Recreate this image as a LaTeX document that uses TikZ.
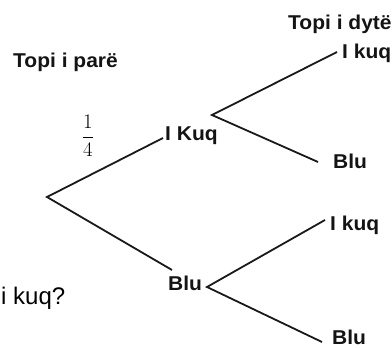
\documentclass[tikz,border=0pt]{standalone}
\usepackage{fontspec}
\setmainfont{Liberation Sans}
\newfontfamily\labfont[FakeStretch=1.05,BoldFont={Liberation Sans Bold}]{Liberation Sans}
\begin{document}
\begin{tikzpicture}[x=1pt,y=-1pt,
  lab/.style={inner sep=0pt,anchor=base west,font=\labfont\fontsize{20}{22}\selectfont\bfseries,text=black!92},
  branch/.style={line width=1.8pt,draw=black!90}]
\useasboundingbox (0,0) rectangle (392,348);
% headings
\node[lab] (topi1) at (13,67) {Topi i parë};
\node[lab] (topi2) at (288,30) {Topi i dytë};
% fraction
\node[inner sep=0pt,font=\fontsize{21}{24}\selectfont] (frac) at (88,136) {$\displaystyle\frac{1}{4}$};
% first level
\coordinate (root) at (47,197);
\node[lab] (ikuqM) at (165,140) {I Kuq};
\node[lab] (bluM) at (168,290) {Blu};
% second level
\coordinate (f1) at (212,115);
\coordinate (f2) at (207,287);
\node[lab] (ikuqA) at (342,58) {I kuq};
\node[lab] (bluA) at (333,168) {Blu};
\node[lab] (ikuqB) at (330,230) {I kuq};
\node[lab] (bluB) at (332,344) {Blu};
% question fragment
\node[inner sep=0pt,anchor=base west,font=\fontsize{24}{28}\selectfont] (q) at (1,305) {i kuq?};
% branches
\draw[branch] ([shift={(-2pt,2pt)}]ikuqM.base west) -- (root) -- ([shift={(4pt,20pt)}]bluM.base west);
\draw[branch] ([shift={(-5pt,6pt)}]ikuqA.base west) -- (f1) -- ([shift={(-15pt,6pt)}]bluA.base west);
\draw[branch] ([shift={(-5pt,10pt)}]ikuqB.base west) -- (f2) -- ([shift={(-10pt,2pt)}]bluB.base west);
\end{tikzpicture}
\end{document}
